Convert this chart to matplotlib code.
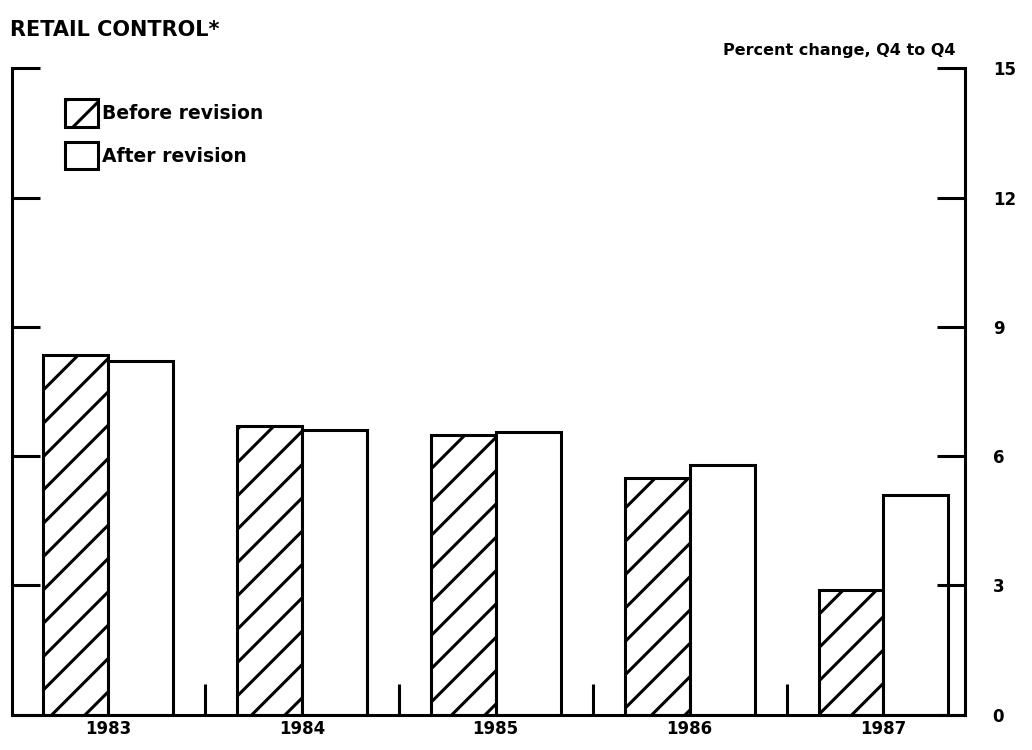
import numpy as np
import matplotlib
matplotlib.use("Agg")
import matplotlib.pyplot as plt

# donnees
years = ["1983", "1984", "1985", "1986", "1987"]
before = [8.35, 6.7, 6.5, 5.5, 2.9]
after = [8.2, 6.6, 6.55, 5.8, 5.1]
yticks = [0, 3, 6, 9, 12, 15]

plt.rcParams['font.family'] = ['DejaVu Sans']
plt.rcParams['font.weight'] = 'bold'
plt.rcParams['hatch.linewidth'] = 2.2
plt.rcParams['hatch.color'] = 'black'

fig = plt.figure(figsize=(10.32, 7.5), dpi=100)
ax = fig.add_axes([0.0116, 0.047, 0.9234, 0.862])

x = np.arange(len(years))
w = 0.335
ax.bar(x - w / 2, before, w, facecolor='white', edgecolor='black',
       linewidth=2.2, hatch='/', label='Before revision')
ax.bar(x + w / 2, after, w, facecolor='white', edgecolor='black',
       linewidth=2.2, label='After revision')

ax.set_xlim(-0.495, 4.42)
ax.set_ylim(0, 15)

for s in ['left', 'right', 'bottom']:
    ax.spines[s].set_linewidth(2.2)
ax.spines['top'].set_visible(False)

# axe y : graduations des deux cotes, etiquettes a droite
ax.set_yticks(yticks)
ax.tick_params(axis='y', which='major', direction='in', length=20, width=2.2,
               left=True, right=True, labelleft=False, labelright=True,
               labelsize=12, pad=20)

# axe x : petits traits entre les annees, etiquettes sous chaque groupe
ax.set_xticks(x[:-1] + 0.5)
ax.set_xticklabels([])
ax.tick_params(axis='x', which='major', direction='in', length=22, width=2.2)
ax.set_xticks(x, minor=True)
ax.set_xticklabels(years, minor=True)
ax.tick_params(axis='x', which='minor', length=0, labelsize=12, pad=4)

ax.legend(loc='upper left', bbox_to_anchor=(0.056, 0.952), frameon=False,
          fontsize=13.5, handlelength=1.75, handleheight=1.9, labelspacing=0.78,
          handletextpad=0.2, borderpad=0, borderaxespad=0)

fig.text(0.01, 0.96, "RETAIL CONTROL*", fontsize=15, ha='left', va='center')
fig.text(0.926, 0.933, "Percent change, Q4 to Q4", fontsize=11.5, ha='right',
         va='center')

fig.savefig("out.png", dpi=100)
